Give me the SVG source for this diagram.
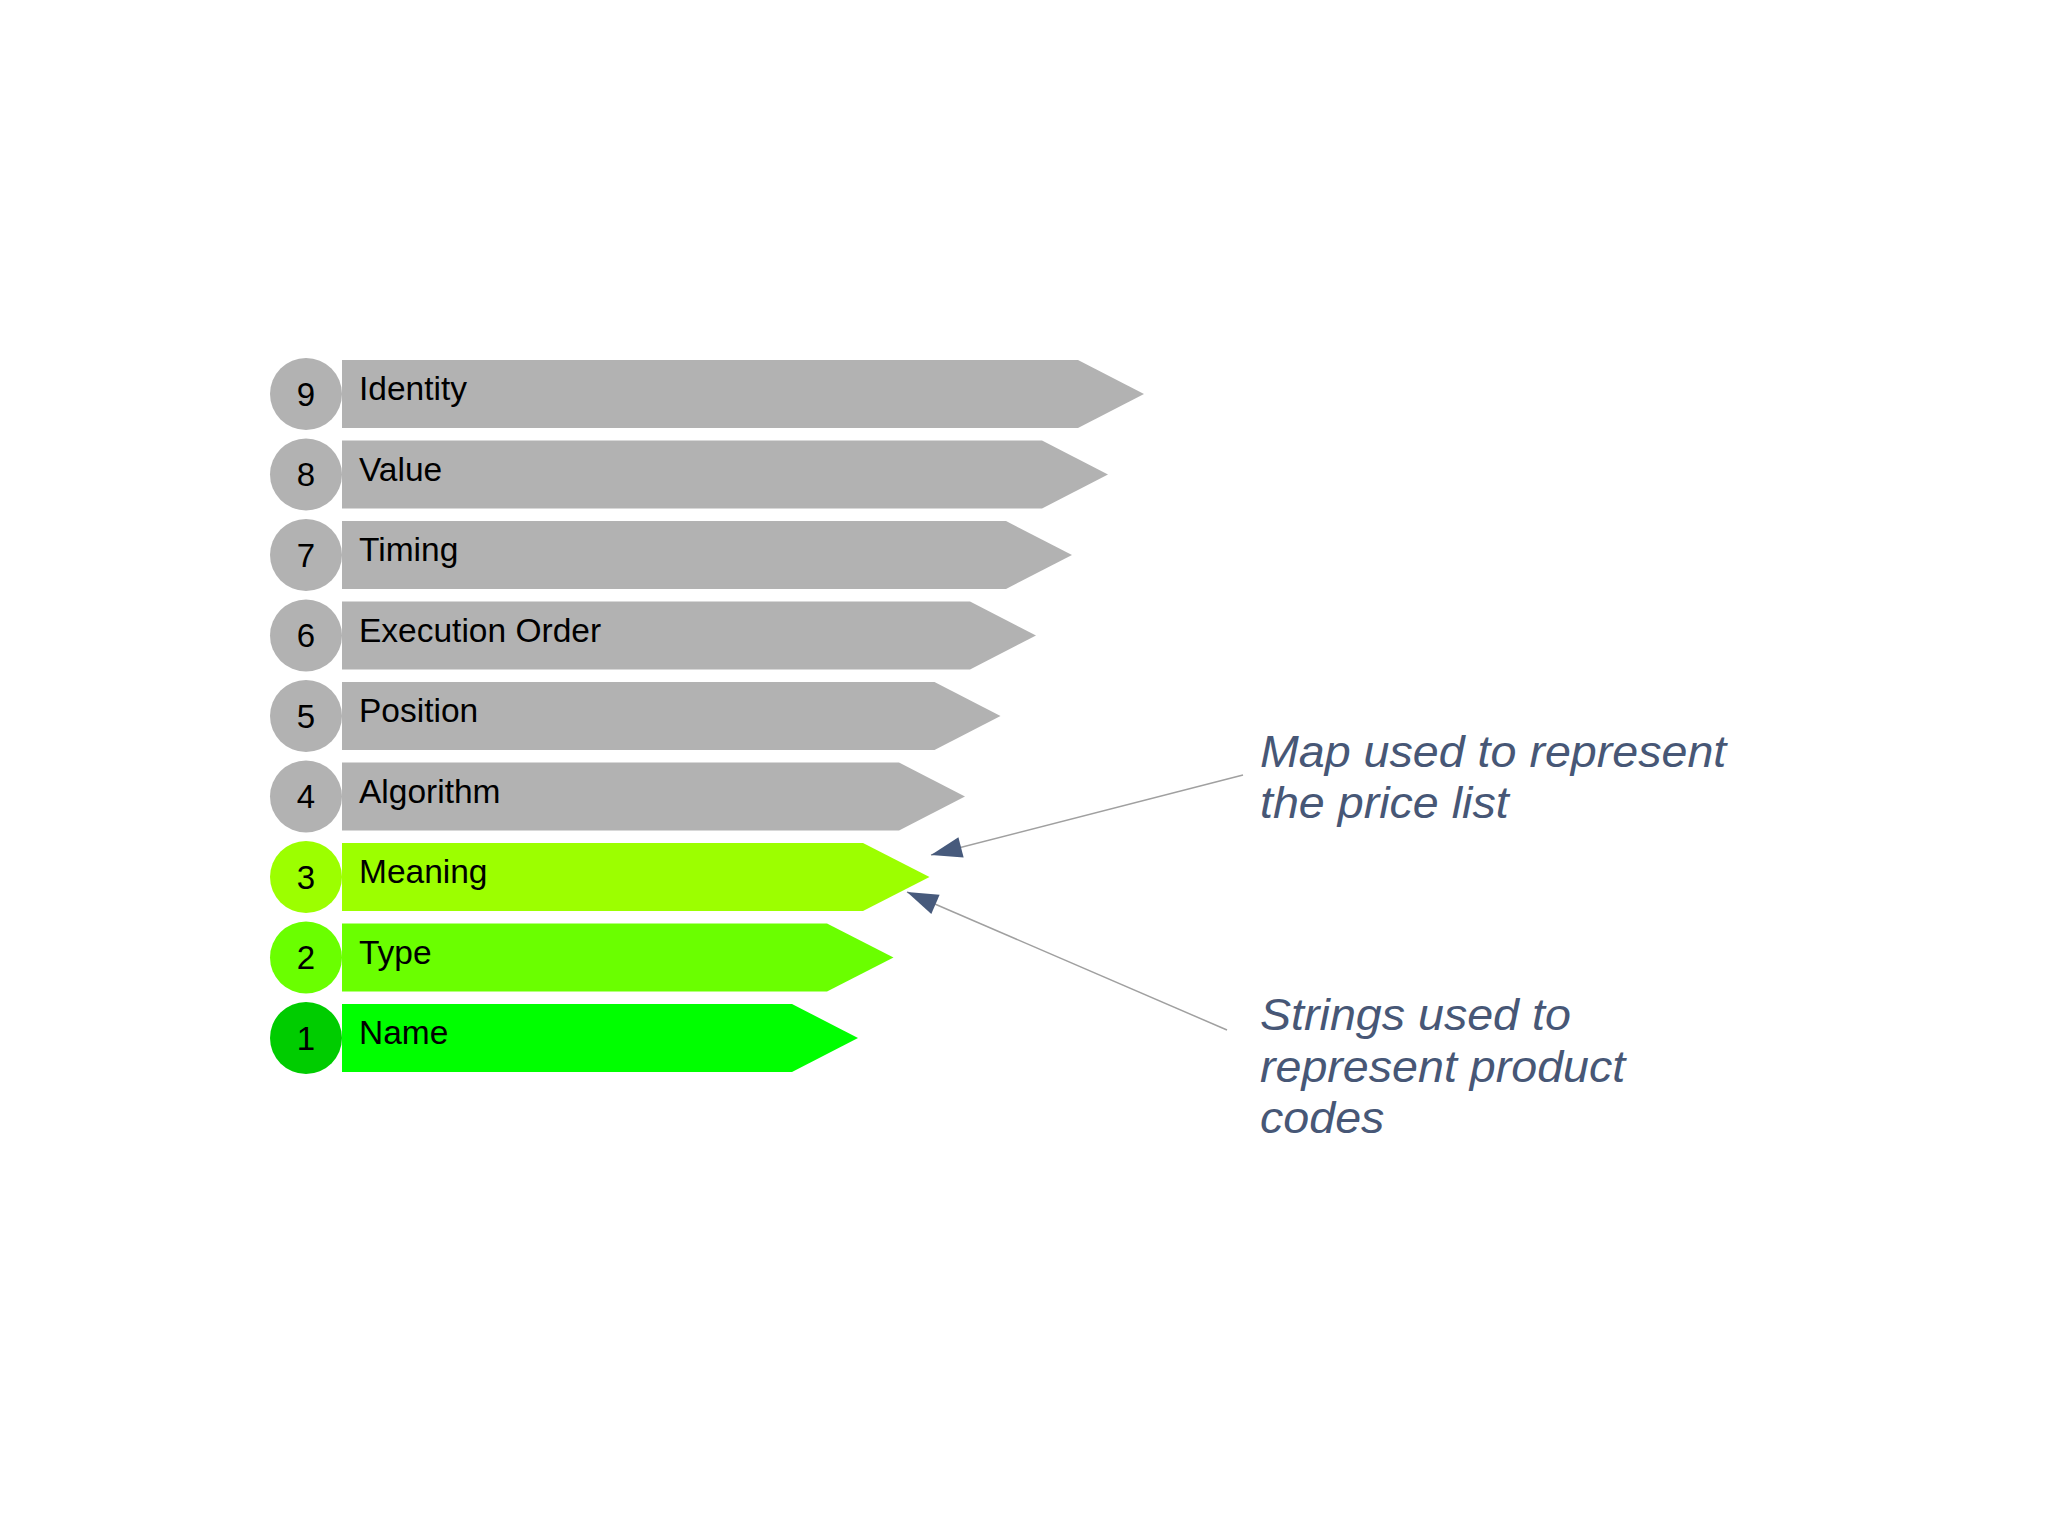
<svg xmlns="http://www.w3.org/2000/svg" width="2048" height="1535" viewBox="0 0 2048 1535">
<defs>
<style>
.gray{fill:#b2b2b2}
.lbl{font-family:"Liberation Sans",Arial,sans-serif;font-size:33.5px;fill:#000}
.num{font-family:"Liberation Sans",Arial,sans-serif;font-size:33px;fill:#000;text-anchor:middle}
.note{font-family:"Liberation Sans",Arial,sans-serif;font-style:italic;font-size:46.6px;fill:#475776}
.conn{stroke:#a0a0a0;stroke-width:1.5;fill:none;marker-end:url(#ah)}
</style>
<marker id="ah" markerUnits="userSpaceOnUse" markerWidth="34" markerHeight="24" viewBox="0 -12 32 24" refX="31" refY="0" orient="auto">
<path d="M31,0 L0,-10.5 L0,10.5 Z" fill="#475a7c"/>
</marker>
</defs>
<rect width="2048" height="1535" fill="#ffffff"/>

<g id="row9">
<circle cx="306" cy="394" r="36" class="gray"/>
<polygon points="342,360 1078,360 1144,394 1078,428 342,428" class="gray"/>
<text x="306" y="405.5" class="num">9</text>
<text x="359" y="400" class="lbl">Identity</text>
</g>
<g id="row8">
<circle cx="306" cy="474.5" r="36" class="gray"/>
<polygon points="342,440.5 1042,440.5 1108,474.5 1042,508.5 342,508.5" class="gray"/>
<text x="306" y="486" class="num">8</text>
<text x="359" y="480.5" class="lbl">Value</text>
</g>
<g id="row7">
<circle cx="306" cy="555" r="36" class="gray"/>
<polygon points="342,521 1006,521 1072,555 1006,589 342,589" class="gray"/>
<text x="306" y="566.5" class="num">7</text>
<text x="359" y="561" class="lbl">Timing</text>
</g>
<g id="row6">
<circle cx="306" cy="635.5" r="36" class="gray"/>
<polygon points="342,601.5 970,601.5 1036,635.5 970,669.5 342,669.5" class="gray"/>
<text x="306" y="647" class="num">6</text>
<text x="359" y="641.5" class="lbl">Execution Order</text>
</g>
<g id="row5">
<circle cx="306" cy="716" r="36" class="gray"/>
<polygon points="342,682 934.5,682 1000.5,716 934.5,750 342,750" class="gray"/>
<text x="306" y="727.5" class="num">5</text>
<text x="359" y="722" class="lbl">Position</text>
</g>
<g id="row4">
<circle cx="306" cy="796.5" r="36" class="gray"/>
<polygon points="342,762.5 899,762.5 965,796.5 899,830.5 342,830.5" class="gray"/>
<text x="306" y="808" class="num">4</text>
<text x="359" y="802.5" class="lbl">Algorithm</text>
</g>
<g id="row3">
<circle cx="306" cy="877" r="36" fill="#9cff00"/>
<polygon points="342,843 863,843 929.5,877 863,911 342,911" fill="#9cff00"/>
<text x="306" y="888.5" class="num">3</text>
<text x="359" y="883" class="lbl">Meaning</text>
</g>
<g id="row2">
<circle cx="306" cy="957.5" r="36" fill="#6aff00"/>
<polygon points="342,923.5 827,923.5 893.5,957.5 827,991.5 342,991.5" fill="#6aff00"/>
<text x="306" y="969" class="num">2</text>
<text x="359" y="963.5" class="lbl">Type</text>
</g>
<g id="row1">
<circle cx="306" cy="1038" r="36" fill="#00cc00"/>
<polygon points="342,1004 792,1004 858,1038 792,1072 342,1072" fill="#00ff00"/>
<text x="306" y="1049.5" class="num">1</text>
<text x="359" y="1043.5" class="lbl">Name</text>
</g>

<g id="note-map" transform="translate(1260,766.7) scale(1,0.935)">
<text x="0" y="0" class="note"><tspan x="0" y="0">Map used to represent</tspan><tspan x="0" y="55.3">the price list</tspan></text>
</g>
<g id="note-strings" transform="translate(1260,1030) scale(1,0.935)">
<text x="0" y="0" class="note"><tspan x="0" y="0">Strings used to</tspan><tspan x="0" y="55.3">represent product</tspan><tspan x="0" y="110.6">codes</tspan></text>
</g>

<g id="connectors">
<line x1="1243" y1="775" x2="931" y2="855" class="conn"/>
<line x1="1227" y1="1030" x2="907" y2="892" class="conn"/>
</g>
</svg>
